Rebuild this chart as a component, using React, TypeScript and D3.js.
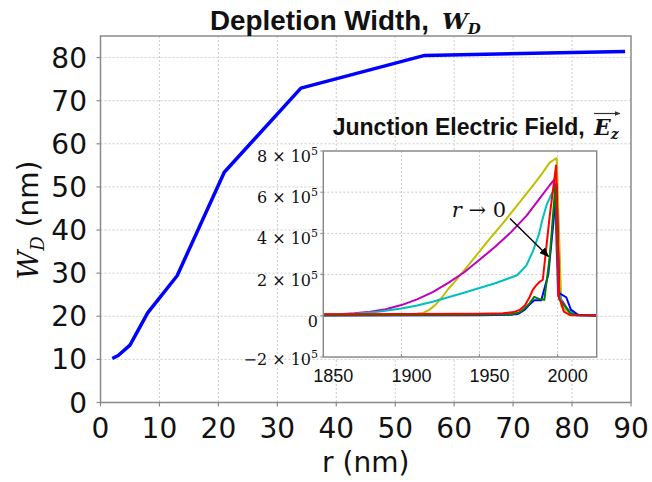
import React from "react";
import * as d3 from "d3";

// ---------- Main chart data ----------
const radii = [2, 3, 5, 8, 13, 21, 34, 55, 89];
const depletionWidths = [10.2, 10.9, 13.3, 20.8, 29.4, 53.4, 72.9, 80.5, 81.4];
const xTicks = [0, 10, 20, 30, 40, 50, 60, 70, 80, 90];
const yTicks = [0, 10, 20, 30, 40, 50, 60, 70, 80];

// ---------- Inset data (E field, in units of 1e5) ----------
const insetXTicks = [1850, 1900, 1950, 2000];
const insetYTicks = [-2, 0, 2, 4, 6, 8];

const fieldYellow: [number, number][] = [
  [1850, 0.05], [1880, 0.05], [1900, 0.05], [1905, 0.06], [1910, 0.1], [1914, 0.14],
  [1918, 0.3], [1922, 0.55], [1926, 0.9], [1930, 1.3], [1935, 1.73], [1945, 2.65],
  [1955, 3.6], [1965, 4.5], [1975, 5.45], [1985, 6.4], [1990, 6.9], [1995, 7.45],
  [1999.4, 7.65], [2002.4, 0.45], [2005, 0.3], [2008.6, 0.12], [2012, 0.05], [2025, 0.03],
];
const fieldMagenta: [number, number][] = [
  [1850, 0.06], [1860, 0.08], [1870, 0.12], [1880, 0.2], [1890, 0.32], [1900, 0.52],
  [1910, 0.8], [1920, 1.15], [1930, 1.6], [1940, 2.1], [1950, 2.72], [1960, 3.35],
  [1970, 4.05], [1980, 4.85], [1985, 5.35], [1990, 5.85], [1995, 6.35], [1998, 6.62],
  [2000.3, 0.96], [2003.3, 0.68], [2006, 0.35], [2010, 0.08], [2015, 0.03], [2025, 0.02],
];
const fieldCyan: [number, number][] = [
  [1850, 0.05], [1870, 0.1], [1885, 0.2], [1900, 0.35], [1910, 0.5], [1920, 0.68],
  [1930, 0.9], [1940, 1.12], [1950, 1.35], [1960, 1.58], [1968, 1.8], [1974, 1.97],
  [1977, 2.2], [1980, 2.45], [1984, 3.1], [1988, 3.95], [1990, 4.6], [1993, 5.4],
  [1996, 5.9], [1999, 6.3], [2001, 1.2], [2003, 0.55], [2006, 0.35], [2009, 0.12],
  [2013, 0.03], [2025, 0.02],
];
const fieldBlue: [number, number][] = [
  [1850, 0.02], [1950, 0.03], [1970, 0.05], [1975, 0.1], [1979, 0.3], [1982, 0.55],
  [1985, 0.76], [1989.5, 0.76], [1994, 2.0], [1997, 4.3], [1999.3, 6.4], [2001, 1.1],
  [2005.5, 0.9], [2008.5, 0.3], [2013, 0.05], [2025, 0.02],
];
const fieldGreen: [number, number][] = [
  [1850, 0.03], [1950, 0.05], [1970, 0.08], [1975, 0.15], [1978, 0.3], [1982, 0.6],
  [1985, 0.92], [1988, 0.82], [1991.5, 0.78], [1995, 2.9], [1998.5, 6.3], [2001, 0.8],
  [2005, 0.45], [2008, 0.12], [2012, 0.03], [2025, 0.02],
];
const fieldRed: [number, number][] = [
  [1850, 0.08], [1900, 0.09], [1950, 0.1], [1965, 0.12], [1972, 0.18], [1976, 0.3],
  [1979, 0.5], [1982, 0.9], [1984, 1.25], [1986, 1.45], [1988.5, 1.65], [1990.5, 1.75],
  [1993, 3.5], [1995, 4.9], [1999, 7.3], [2001, 0.9], [2004, 0.2], [2008, 0.03], [2025, 0.02],
];

const insetSeries = [
  { data: fieldYellow, color: "#bfbf00" },
  { data: fieldMagenta, color: "#bf00bf" },
  { data: fieldCyan, color: "#00bfbf" },
  { data: fieldBlue, color: "#0000ff" },
  { data: fieldGreen, color: "#008000" },
  { data: fieldRed, color: "#ff0000" },
];

const W = 652;
const H = 482;
const SANS = "'DejaVu Sans', sans-serif";
const ARIAL = "'Liberation Sans', Arial, sans-serif";
const SERIF = "'DejaVu Serif', serif";
const GRID = "#cccccc";
const FRAME = "#8a8a8a";

export default function App() {
  const m = { left: 100.5, right: 631, top: 36, bottom: 402.5 };
  const x = d3.scaleLinear().domain([0, 90]).range([m.left, m.right]);
  const y = d3.scaleLinear().domain([0, 85]).range([m.bottom, m.top]);
  const mainLine = d3
    .line<number>()
    .x((_, i) => x(radii[i]))
    .y((d) => y(d));

  const ins = { left: 323.3, right: 596.7, top: 151, bottom: 357 };
  const ix = d3.scaleLinear().domain([1850, 2025]).range([ins.left, ins.right]);
  const iy = d3.scaleLinear().domain([-2, 8]).range([ins.bottom, ins.top]);
  const insetLine = d3
    .line<[number, number]>()
    .x((d) => ix(d[0]))
    .y((d) => iy(d[1]));

  return (
    <svg
      width={W}
      height={H}
      style={{ position: "absolute", left: 0, top: 0, background: "#fff" }}
    >
      <defs>
        <marker id="ah" viewBox="0 0 10 10" refX="9" refY="5" markerWidth="7" markerHeight="7" orient="auto">
          <path d="M0,1 L10,5 L0,9 z" fill="#000" />
        </marker>
        <marker id="ah2" viewBox="0 0 10 10" refX="9" refY="5" markerWidth="5" markerHeight="5" orient="auto">
          <path d="M0,1 L10,5 L0,9 z" fill="#333" />
        </marker>
        <clipPath id="insetClip">
          <rect x={ins.left} y={ins.top} width={ins.right - ins.left} height={ins.bottom - ins.top} />
        </clipPath>
      </defs>
      <rect x={0} y={0} width={W} height={H} fill="#fff" />

      {/* main grid */}
      {xTicks.slice(1, -1).map((t) => (
        <line key={"gx" + t} x1={x(t)} x2={x(t)} y1={m.top} y2={m.bottom} stroke={GRID} strokeDasharray="2,2" />
      ))}
      {yTicks.slice(1).map((t) => (
        <line key={"gy" + t} x1={m.left} x2={m.right} y1={y(t)} y2={y(t)} stroke={GRID} strokeDasharray="2,2" />
      ))}

      {/* main line */}
      <path d={mainLine(depletionWidths) || ""} fill="none" stroke="#0000ff" strokeWidth={3.5} strokeLinejoin="round" />

      {/* main frame */}
      <rect x={m.left} y={m.top} width={m.right - m.left} height={m.bottom - m.top} fill="none" stroke={FRAME} strokeWidth={1.5} />
      {xTicks.map((t) => (
        <g key={"tx" + t}>
          <line x1={x(t)} x2={x(t)} y1={m.bottom} y2={m.bottom + 4} stroke={FRAME} strokeWidth={1.2} />
          <text x={x(t)} y={438} textAnchor="middle" fontFamily={SANS} fontSize={28} fill="#111">
            {t}
          </text>
        </g>
      ))}
      {yTicks.map((t) => (
        <g key={"ty" + t}>
          <line x1={m.left - 4} x2={m.left} y1={y(t)} y2={y(t)} stroke={FRAME} strokeWidth={1.2} />
          <text x={87} y={y(t)} dy="0.36em" textAnchor="end" fontFamily={SANS} fontSize={28} fill="#111">
            {t}
          </text>
        </g>
      ))}

      {/* axis labels */}
      <text x={(m.left + m.right) / 2} y={472} textAnchor="middle" fontFamily={SANS} fontSize={28} fill="#111">
        r (nm)
      </text>
      <text transform="translate(38,220) rotate(-90)" textAnchor="middle" fontSize={28} fill="#111">
        <tspan fontFamily={SERIF} fontStyle="italic">W</tspan>
        <tspan fontFamily={SERIF} fontStyle="italic" fontSize={18} dy={6}>D</tspan>
        <tspan fontFamily={SANS} dy={-6}> (nm)</tspan>
      </text>

      {/* title */}
      <text x={210} y={30} fontFamily={ARIAL} fontWeight="bold" fontSize={28} fill="#111" textLength={219} lengthAdjust="spacingAndGlyphs">
        Depletion Width,
      </text>
      <text x={442} y={29} fontFamily={SERIF} fontWeight="bold" fontStyle="italic" fontSize={23} fill="#111">
        W
        <tspan fontSize={15} dy={5}>D</tspan>
      </text>

      {/* inset title */}
      <text x={332.7} y={135} fontFamily={ARIAL} fontWeight="bold" fontSize={23} fill="#111" textLength={252} lengthAdjust="spacingAndGlyphs">
        Junction Electric Field,
      </text>
      <text x={594} y={135} fontFamily={SERIF} fontWeight="bold" fontStyle="italic" fontSize={22} fill="#111">
        E
        <tspan fontSize={14} dy={4}>z</tspan>
      </text>
      <line x1={594} x2={620} y1={113.5} y2={113.5} stroke="#333" strokeWidth={1.2} markerEnd="url(#ah2)" />

      {/* inset */}
      <rect x={ins.left} y={ins.top} width={ins.right - ins.left} height={ins.bottom - ins.top} fill="#fff" />
      {insetXTicks.slice(1).map((t) => (
        <line key={"igx" + t} x1={ix(t)} x2={ix(t)} y1={ins.top} y2={ins.bottom} stroke={GRID} strokeDasharray="2,2" />
      ))}
      {insetYTicks.slice(1, -1).map((t) => (
        <line key={"igy" + t} x1={ins.left} x2={ins.right} y1={iy(t)} y2={iy(t)} stroke={GRID} strokeDasharray="2,2" />
      ))}
      <g clipPath="url(#insetClip)">
        {insetSeries.map((s, i) => (
          <path key={"is" + i} d={insetLine(s.data) || ""} fill="none" stroke={s.color} strokeWidth={2} strokeLinejoin="round" />
        ))}
      </g>
      <rect x={ins.left} y={ins.top} width={ins.right - ins.left} height={ins.bottom - ins.top} fill="none" stroke={FRAME} strokeWidth={1.5} />
      {insetXTicks.map((t) => (
        <g key={"itx" + t}>
          <line x1={ix(t)} x2={ix(t)} y1={ins.bottom} y2={ins.bottom - 3} stroke={FRAME} strokeWidth={1} />
          <text x={ix(t) + 10} y={381.5} textAnchor="middle" fontFamily={ARIAL} fontSize={18} fill="#111">
            {t}
          </text>
        </g>
      ))}
      {insetYTicks.map((t) => (
        <g key={"ity" + t}>
          <line x1={ins.left - 3} x2={ins.left} y1={iy(t)} y2={iy(t)} stroke={FRAME} strokeWidth={1} />
          <text x={318} y={iy(t) + (t === -2 ? 8 : 11)} textAnchor="end" fontFamily={SERIF} fontSize={16} fill="#111">
            {t === 0 ? (
              "0"
            ) : (
              <>
                <tspan>{t < 0 ? "\u2212" + Math.abs(t) : String(Math.abs(t))}</tspan>
                <tspan> × 10</tspan>
                <tspan fontSize={11} dy={-7}>5</tspan>
              </>
            )}
          </text>
        </g>
      ))}

      {/* annotation */}
      <text x={451.7} y={217} fontFamily={SERIF} fontSize={21} fill="#111">
        <tspan fontStyle="italic">r</tspan>
        <tspan> → 0</tspan>
      </text>
      <line x1={510} y1={218.5} x2={548.5} y2={256.5} stroke="#000" strokeWidth={1.4} markerEnd="url(#ah)" />
    </svg>
  );
}
